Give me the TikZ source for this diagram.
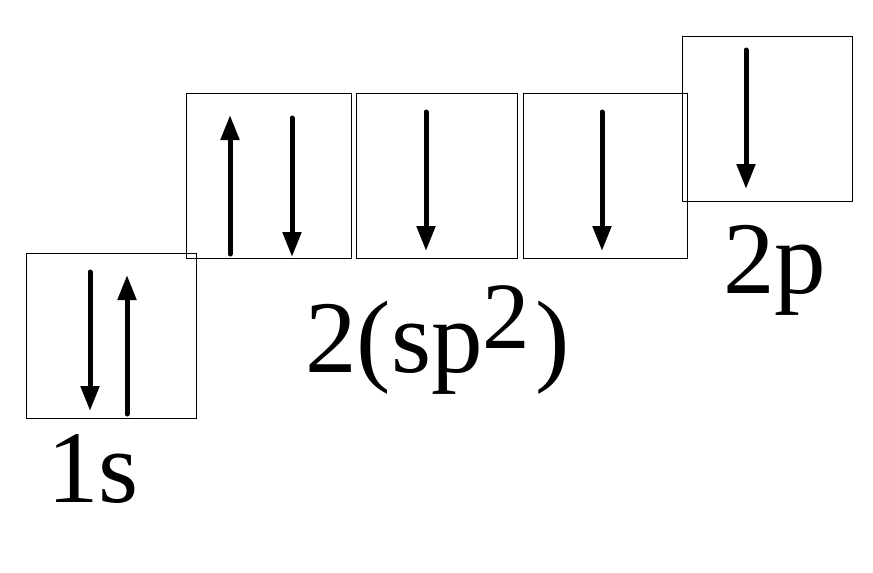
\documentclass[tikz,border=0pt]{standalone}
\usepackage{fontspec}
\setmainfont{Liberation Serif}
\usetikzlibrary{arrows.meta}
\begin{document}
\begin{tikzpicture}[x=1pt,y=-1pt,
  orb/.style={draw,line width=1.2pt,inner sep=0pt,anchor=north west},
  spin/.style={line width=5pt,line cap=round,-{Triangle[length=25pt,width=18pt]}},
  lbl/.style={inner sep=0pt,anchor=base west,font=\fontsize{103}{103}\selectfont}]
\useasboundingbox (0,0) rectangle (873,573);
% boxes
\node[orb,minimum width=170pt,minimum height=165pt] (s1) at (26,253) {};
\node[orb,minimum width=165pt,minimum height=165pt] (a) at (186,93) {};
\node[orb,minimum width=161pt,minimum height=165pt] (b) at (356,93) {};
\node[orb,minimum width=164pt,minimum height=165pt] (c) at (523,93) {};
\node[orb,minimum width=170pt,minimum height=165pt] (p) at (682,36) {};
% spins
\coordinate (s1d0) at (90,272); \coordinate (s1d1) at (90,411);
\coordinate (s1u0) at (127,414); \coordinate (s1u1) at (127,275);
\draw[spin] (s1d0) -- (s1d1);
\draw[spin] (s1u0) -- (s1u1);
\coordinate (au0) at (230,254); \coordinate (au1) at (230,115);
\coordinate (ad0) at (292,118); \coordinate (ad1) at (292,257);
\draw[spin] (au0) -- (au1);
\draw[spin] (ad0) -- (ad1);
\coordinate (bd0) at (426,112); \coordinate (bd1) at (426,251);
\draw[spin] (bd0) -- (bd1);
\coordinate (cd0) at (602,112); \coordinate (cd1) at (602,251);
\draw[spin] (cd0) -- (cd1);
\coordinate (pd0) at (746,50); \coordinate (pd1) at (746,189);
\draw[spin] (pd0) -- (pd1);
% labels
\node[lbl] (l1s) at (47,502) {1s};
\node[lbl] (lsp) at (305,372) {2(sp\raisebox{24pt}{\fontsize{95}{95}\selectfont 2}\kern5pt)};
\node[lbl] (l2p) at (723,293) {2p};
\end{tikzpicture}
\end{document}
